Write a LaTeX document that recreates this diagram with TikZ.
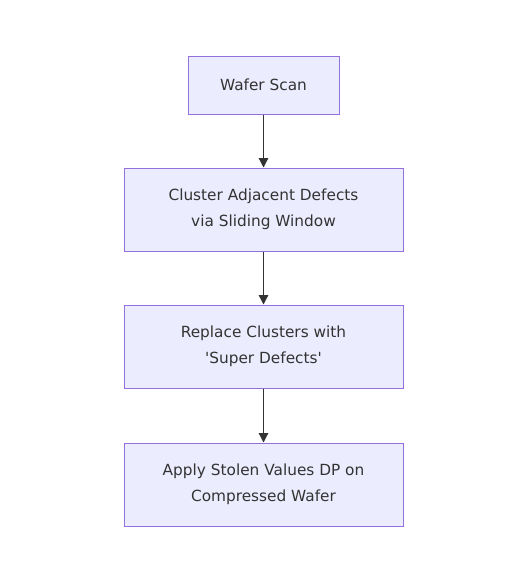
\documentclass[tikz,border=0pt]{standalone}
\usepackage{fontspec}
\setmainfont{DejaVu Sans}
\usetikzlibrary{arrows.meta}
\definecolor{boxfill}{HTML}{ECECFF}
\definecolor{boxline}{HTML}{9370DB}
\definecolor{ink}{HTML}{333333}
\tikzset{
  stepbox/.style={draw=boxline, fill=boxfill, line width=0.75pt, text=ink,
    font=\fontsize{11.5}{19.5}\selectfont, align=center, inner sep=0pt},
  flow/.style={draw=ink, line width=0.9pt, -{Triangle[length=7pt,width=7pt]}}
}
\begin{document}
\begin{tikzpicture}[x=0.75pt,y=-0.75pt]
\useasboundingbox (0,0) rectangle (532,575);
\node[stepbox, minimum width=113.25pt, minimum height=43.5pt] (scan) at (263.5,85) {Wafer Scan};
\node[stepbox, minimum width=209.25pt, minimum height=62.25pt] (cluster) at (263.5,209.5) {Cluster Adjacent Defects\\ via Sliding Window};
\node[stepbox, minimum width=209.25pt, minimum height=62.25pt] (replace) at (263.5,346.5) {Replace Clusters with\\ \textquotesingle Super Defects\textquotesingle};
\node[stepbox, minimum width=209.25pt, minimum height=62.25pt] (apply) at (263.5,484.5) {Apply Stolen Values DP on\\ Compressed Wafer};
\path[flow] (scan) -- (cluster);
\path[flow] (cluster) -- (replace);
\path[flow] (replace) -- (apply);
\end{tikzpicture}
\end{document}
